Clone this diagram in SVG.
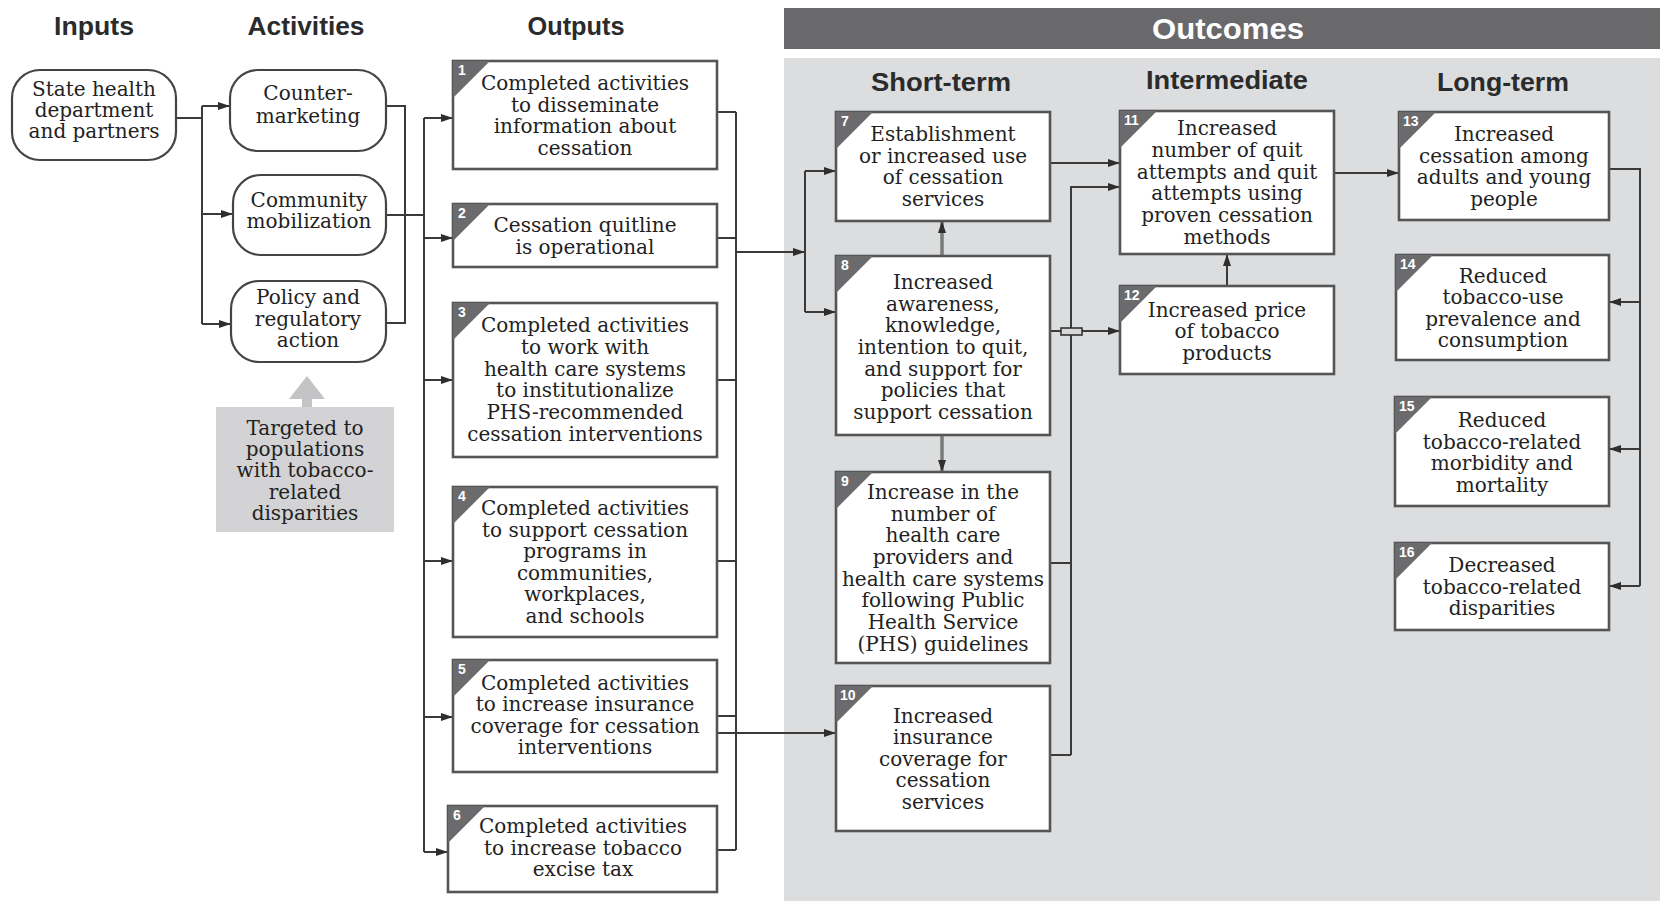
<svg xmlns="http://www.w3.org/2000/svg" width="1660" height="901" viewBox="0 0 1660 901">
<style>
.hd{font-family:"Liberation Sans",Arial,sans-serif;font-weight:bold;font-size:26px;fill:#2b2b2b;text-anchor:middle}
.hdw{font-family:"Liberation Sans",Arial,sans-serif;font-weight:bold;font-size:30px;fill:#ffffff;text-anchor:middle}
.t{font-family:"DejaVu Serif","Liberation Serif",serif;font-size:20px;fill:#222;text-anchor:middle}
.rb{fill:#ffffff;stroke:#444;stroke-width:2.2}
.bx{fill:#ffffff;stroke:#555;stroke-width:2.6}
.tab{fill:#6b6b6e}
.num{font-family:"Liberation Sans",Arial,sans-serif;font-weight:bold;font-size:14px;fill:#ffffff}
.ln{fill:none;stroke:#3a3a3a;stroke-width:2}
.ar{fill:none;stroke:#3a3a3a;stroke-width:2;marker-end:url(#ah)}
.gar{fill:none;stroke:#7a7a7a;stroke-width:3.5;marker-end:url(#ah)}
</style>
<defs>
<marker id="ah" viewBox="0 0 12 8" refX="12" refY="4" markerWidth="12" markerHeight="8" markerUnits="userSpaceOnUse" orient="auto">
<path d="M0,0 L12,4 L0,8 z" fill="#2e2e2e"/>
</marker>
</defs>

<rect x="0" y="0" width="1660" height="901" fill="#ffffff"/>
<!-- Outcomes panel -->
<rect x="784" y="58" width="876" height="843" fill="#dcdddf"/>
<rect x="784" y="8" width="876" height="41" fill="#69696c"/>
<text class="hdw" x="1228" y="39" textLength="152" lengthAdjust="spacingAndGlyphs">Outcomes</text>

<!-- column headings -->
<text class="hd" x="94" y="35" textLength="80" lengthAdjust="spacingAndGlyphs">Inputs</text>
<text class="hd" x="306" y="35" textLength="117" lengthAdjust="spacingAndGlyphs">Activities</text>
<text class="hd" x="576" y="35" textLength="97" lengthAdjust="spacingAndGlyphs">Outputs</text>
<text class="hd" x="941" y="91" textLength="140" lengthAdjust="spacingAndGlyphs">Short-term</text>
<text class="hd" x="1227" y="89" textLength="162" lengthAdjust="spacingAndGlyphs">Intermediate</text>
<text class="hd" x="1503" y="91" textLength="132" lengthAdjust="spacingAndGlyphs">Long-term</text>

<!-- connectors -->
<g id="connectors">
<path class="ln" d="M176,118 H202 M202,106 V324"/>
<path class="ar" d="M202,106 H230"/>
<path class="ar" d="M202,214 H233"/>
<path class="ar" d="M202,324 H231"/>
<path class="ln" d="M386,106 H405 V323 H386 M386,215 H424"/>
<path class="ln" d="M424,118 V852"/>
<path class="ar" d="M424,118 H453"/>
<path class="ar" d="M424,238 H453"/>
<path class="ar" d="M424,380 H453"/>
<path class="ar" d="M424,561 H453"/>
<path class="ar" d="M424,717 H453"/>
<path class="ar" d="M424,852 H448"/>
<path class="ln" d="M717,112 H736 M717,238 H736 M717,380 H736 M717,561 H736 M717,716 H736 M717,850 H736 M736,112 V850"/>
<path class="ar" d="M736,252 H805"/>
<path class="ln" d="M805,171 V312"/>
<path class="ar" d="M805,171 H836"/>
<path class="ar" d="M805,312 H836"/>
<path class="ar" d="M717,733 H836"/>
<path class="gar" d="M942,256 V221"/>
<path class="gar" d="M942,435 V472"/>
<path class="ar" d="M1050,163 H1120"/>
<path class="ln" d="M1050,563 H1071 M1050,755 H1071"/>
<path class="ar" d="M1071,755 V187 H1120"/>
<path class="ar" d="M1050,331 H1120"/>
<rect x="1061" y="328" width="21" height="7" fill="#d8d8d8" stroke="#333" stroke-width="1.6"/>
<path class="ar" d="M1227,286 V254"/>
<path class="ar" d="M1334,173 H1399"/>
<path class="ln" d="M1609,169 H1640 V586"/>
<path class="ar" d="M1640,302 H1609"/>
<path class="ar" d="M1640,449 H1609"/>
<path class="ar" d="M1640,586 H1609"/>
</g>

<!-- Inputs -->
<g id="n-input">
<rect class="rb" x="12" y="70" width="164" height="90" rx="28"/>
<text class="t"><tspan x="94" y="96">State health</tspan><tspan x="94" y="117">department</tspan><tspan x="94" y="138">and partners</tspan></text>
</g>

<!-- Activities -->
<g id="n-counter">
<rect class="rb" x="230" y="70" width="156" height="81" rx="28"/>
<text class="t"><tspan x="308" y="100">Counter-</tspan><tspan x="308" y="123">marketing</tspan></text>
</g>
<g id="n-community">
<rect class="rb" x="233" y="175" width="153" height="80" rx="28"/>
<text class="t"><tspan x="309" y="207">Community</tspan><tspan x="309" y="228">mobilization</tspan></text>
</g>
<g id="n-policy">
<rect class="rb" x="231" y="281" width="155" height="81" rx="28"/>
<text class="t"><tspan x="308" y="304">Policy and</tspan><tspan x="308" y="326">regulatory</tspan><tspan x="308" y="347">action</tspan></text>
</g>
<g id="n-targeted">
<polygon points="289,399 325,399 307,376" fill="#c4c4c6"/>
<rect x="302" y="398" width="10" height="10" fill="#c4c4c6"/>
<rect x="216" y="407" width="178" height="125" fill="#d3d3d5"/>
<text class="t"><tspan x="305" y="435">Targeted to</tspan><tspan x="305" y="456">populations</tspan><tspan x="305" y="477">with tobacco-</tspan><tspan x="305" y="499">related</tspan><tspan x="305" y="520">disparities</tspan></text>
</g>

<!-- Outputs -->
<g id="n1">
<rect class="bx" x="453" y="61" width="264" height="108"/>
<polygon class="tab" points="453,61 490,61 453,98"/>
<text class="num" x="458" y="75">1</text>
<text class="t"><tspan x="585" y="90">Completed activities</tspan><tspan x="585" y="112">to disseminate</tspan><tspan x="585" y="133">information about</tspan><tspan x="585" y="155">cessation</tspan></text>
</g>
<g id="n2">
<rect class="bx" x="453" y="204" width="264" height="63"/>
<polygon class="tab" points="453,204 490,204 453,241"/>
<text class="num" x="458" y="218">2</text>
<text class="t"><tspan x="585" y="232">Cessation quitline</tspan><tspan x="585" y="254">is operational</tspan></text>
</g>
<g id="n3">
<rect class="bx" x="453" y="303" width="264" height="154"/>
<polygon class="tab" points="453,303 490,303 453,340"/>
<text class="num" x="458" y="317">3</text>
<text class="t"><tspan x="585" y="332">Completed activities</tspan><tspan x="585" y="354">to work with</tspan><tspan x="585" y="376">health care systems</tspan><tspan x="585" y="397">to institutionalize</tspan><tspan x="585" y="419">PHS-recommended</tspan><tspan x="585" y="441">cessation interventions</tspan></text>
</g>
<g id="n4">
<rect class="bx" x="453" y="487" width="264" height="150"/>
<polygon class="tab" points="453,487 490,487 453,524"/>
<text class="num" x="458" y="501">4</text>
<text class="t"><tspan x="585" y="515">Completed activities</tspan><tspan x="585" y="537">to support cessation</tspan><tspan x="585" y="558">programs in</tspan><tspan x="585" y="580">communities,</tspan><tspan x="585" y="601">workplaces,</tspan><tspan x="585" y="623">and schools</tspan></text>
</g>
<g id="n5">
<rect class="bx" x="453" y="660" width="264" height="112"/>
<polygon class="tab" points="453,660 490,660 453,697"/>
<text class="num" x="458" y="674">5</text>
<text class="t"><tspan x="585" y="690">Completed activities</tspan><tspan x="585" y="711">to increase insurance</tspan><tspan x="585" y="733">coverage for cessation</tspan><tspan x="585" y="754">interventions</tspan></text>
</g>
<g id="n6">
<rect class="bx" x="448" y="806" width="269" height="86"/>
<polygon class="tab" points="448,806 485,806 448,843"/>
<text class="num" x="453" y="820">6</text>
<text class="t"><tspan x="583" y="833">Completed activities</tspan><tspan x="583" y="855">to increase tobacco</tspan><tspan x="583" y="876">excise tax</tspan></text>
</g>

<!-- Short-term -->
<g id="n7">
<rect class="bx" x="836" y="112" width="214" height="109"/>
<polygon class="tab" points="836,112 873,112 836,149"/>
<text class="num" x="841" y="126">7</text>
<text class="t"><tspan x="943" y="141">Establishment</tspan><tspan x="943" y="163">or increased use</tspan><tspan x="943" y="184">of cessation</tspan><tspan x="943" y="206">services</tspan></text>
</g>
<g id="n8">
<rect class="bx" x="836" y="256" width="214" height="179"/>
<polygon class="tab" points="836,256 873,256 836,293"/>
<text class="num" x="841" y="270">8</text>
<text class="t"><tspan x="943" y="289">Increased</tspan><tspan x="943" y="311">awareness,</tspan><tspan x="943" y="332">knowledge,</tspan><tspan x="943" y="354">intention to quit,</tspan><tspan x="943" y="376">and support for</tspan><tspan x="943" y="397">policies that</tspan><tspan x="943" y="419">support cessation</tspan></text>
</g>
<g id="n9">
<rect class="bx" x="836" y="472" width="214" height="191"/>
<polygon class="tab" points="836,472 873,472 836,509"/>
<text class="num" x="841" y="486">9</text>
<text class="t"><tspan x="943" y="499">Increase in the</tspan><tspan x="943" y="521">number of</tspan><tspan x="943" y="542">health care</tspan><tspan x="943" y="564">providers and</tspan><tspan x="943" y="586">health care systems</tspan><tspan x="943" y="607">following Public</tspan><tspan x="943" y="629">Health Service</tspan><tspan x="943" y="651">(PHS) guidelines</tspan></text>
</g>
<g id="n10">
<rect class="bx" x="836" y="686" width="214" height="145"/>
<polygon class="tab" points="836,686 873,686 836,723"/>
<text class="num" x="840" y="700">10</text>
<text class="t"><tspan x="943" y="723">Increased</tspan><tspan x="943" y="744">insurance</tspan><tspan x="943" y="766">coverage for</tspan><tspan x="943" y="787">cessation</tspan><tspan x="943" y="809">services</tspan></text>
</g>

<!-- Intermediate -->
<g id="n11">
<rect class="bx" x="1120" y="111" width="214" height="143"/>
<polygon class="tab" points="1120,111 1157,111 1120,148"/>
<text class="num" x="1124" y="125">11</text>
<text class="t"><tspan x="1227" y="135">Increased</tspan><tspan x="1227" y="157">number of quit</tspan><tspan x="1227" y="179">attempts and quit</tspan><tspan x="1227" y="200">attempts using</tspan><tspan x="1227" y="222">proven cessation</tspan><tspan x="1227" y="244">methods</tspan></text>
</g>
<g id="n12">
<rect class="bx" x="1120" y="286" width="214" height="88"/>
<polygon class="tab" points="1120,286 1157,286 1120,323"/>
<text class="num" x="1124" y="300">12</text>
<text class="t"><tspan x="1227" y="317">Increased price</tspan><tspan x="1227" y="338">of tobacco</tspan><tspan x="1227" y="360">products</tspan></text>
</g>

<!-- Long-term -->
<g id="n13">
<rect class="bx" x="1399" y="112" width="210" height="108"/>
<polygon class="tab" points="1399,112 1436,112 1399,149"/>
<text class="num" x="1403" y="126">13</text>
<text class="t"><tspan x="1504" y="141">Increased</tspan><tspan x="1504" y="163">cessation among</tspan><tspan x="1504" y="184">adults and young</tspan><tspan x="1504" y="206">people</tspan></text>
</g>
<g id="n14">
<rect class="bx" x="1396" y="255" width="213" height="105"/>
<polygon class="tab" points="1396,255 1433,255 1396,292"/>
<text class="num" x="1400" y="269">14</text>
<text class="t"><tspan x="1503" y="283">Reduced</tspan><tspan x="1503" y="304">tobacco-use</tspan><tspan x="1503" y="326">prevalence and</tspan><tspan x="1503" y="347">consumption</tspan></text>
</g>
<g id="n15">
<rect class="bx" x="1395" y="397" width="214" height="109"/>
<polygon class="tab" points="1395,397 1432,397 1395,434"/>
<text class="num" x="1399" y="411">15</text>
<text class="t"><tspan x="1502" y="427">Reduced</tspan><tspan x="1502" y="449">tobacco-related</tspan><tspan x="1502" y="470">morbidity and</tspan><tspan x="1502" y="492">mortality</tspan></text>
</g>
<g id="n16">
<rect class="bx" x="1395" y="543" width="214" height="87"/>
<polygon class="tab" points="1395,543 1432,543 1395,580"/>
<text class="num" x="1399" y="557">16</text>
<text class="t"><tspan x="1502" y="572">Decreased</tspan><tspan x="1502" y="594">tobacco-related</tspan><tspan x="1502" y="615">disparities</tspan></text>
</g>
</svg>
